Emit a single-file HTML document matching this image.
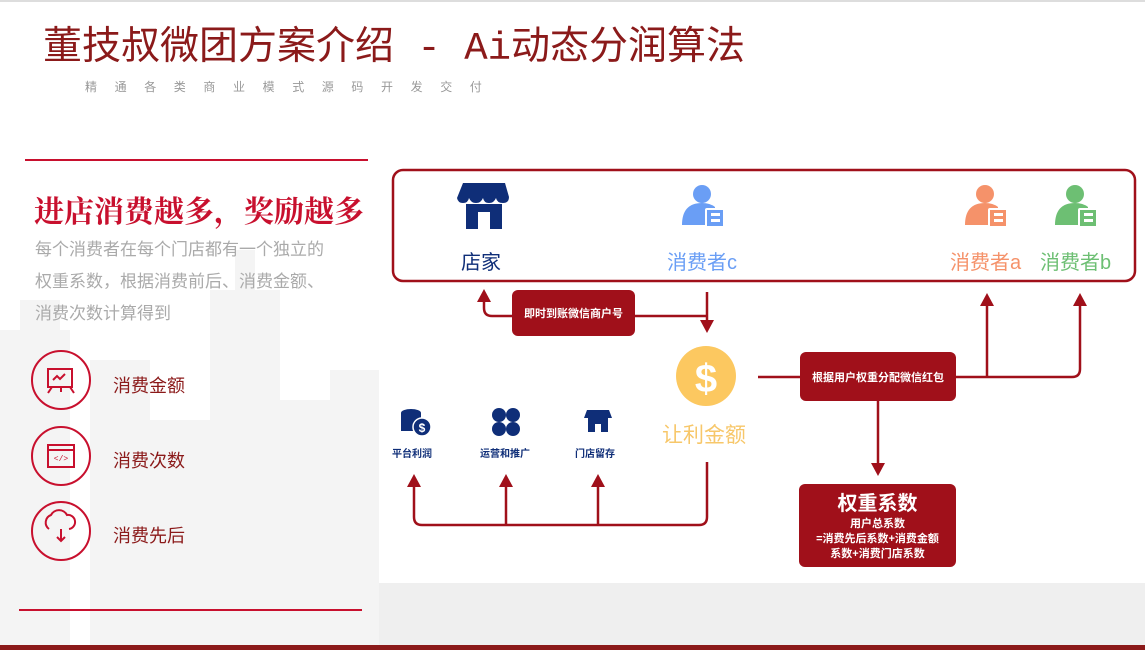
<!DOCTYPE html>
<html><head><meta charset="utf-8"><style>
body{margin:0;width:1145px;height:650px;overflow:hidden;background:#fff;font-family:"Liberation Sans","Noto Sans CJK SC",sans-serif;position:relative}
.a{position:absolute;white-space:nowrap}
</style></head><body>
<svg class="a" style="left:0;top:0" width="1145" height="650">
<g fill="#f4f4f4">
<rect x="0" y="330" width="70" height="320"/><rect x="20" y="300" width="40" height="40"/>
<rect x="90" y="360" width="60" height="290"/><rect x="150" y="420" width="70" height="230"/>
<rect x="210" y="290" width="70" height="360"/><rect x="235" y="250" width="20" height="50"/>
<rect x="280" y="400" width="100" height="250"/><rect x="330" y="370" width="50" height="40"/>
<rect x="379" y="583" width="766" height="67" fill="#efefef"/>
</g>
<rect x="0" y="0" width="1145" height="2" fill="#ddd"/>
<line x1="25" y1="160" x2="368" y2="160" stroke="#c8102e" stroke-width="2"/>
<line x1="19" y1="610" x2="362" y2="610" stroke="#c8102e" stroke-width="2"/>
<rect x="0" y="645" width="1145" height="5" fill="#8b1a1a"/>
<rect x="379" y="165" width="762" height="418" fill="#fff"/>
<g fill="none" stroke="#c8102e" stroke-width="2">
<circle cx="61" cy="380" r="29"/><circle cx="61" cy="456" r="29"/><circle cx="61" cy="531" r="29"/>
<rect x="48" y="369" width="24" height="18"/><path d="M53 380l4-4 3 3 5-5M52 387l-4 6M70 387l4 6M61 387v5"/>
<rect x="48" y="445" width="26" height="22"/><line x1="48" y1="450" x2="74" y2="450"/>
<path d="M54 469a8 8 0 0 1 2-14 9 9 0 0 1 16 0 6 6 0 0 1 2 14" transform="translate(-5,60)"/>
<path d="M61 529v12M57 537l4 4 4-4"/>
</g>
<text x="61" y="461" font-size="8" fill="#c8102e" text-anchor="middle" font-family="Liberation Mono">&lt;/&gt;</text>
<rect x="393" y="170" width="742" height="111" rx="10" fill="none" stroke="#a0101a" stroke-width="2.5"/>
<g fill="none" stroke="#a0101a" stroke-width="2.5">
<path d="M484 300v8q0 8 8 8h20"/>
<path d="M635 316h72"/><path d="M707 292v30"/>
<path d="M758 377h42"/><path d="M956 377h116q8 0 8-8v-64"/><path d="M987 377v-72"/>
<path d="M878 401v63"/>
<path d="M707 462v55q0 8-8 8h-277q-8 0-8-8v-32"/><path d="M506 485v40"/><path d="M598 485v40"/>
</g>
<g fill="#a0101a">
<path d="M477 302l7-13 7 13z"/><path d="M700 320l7 13 7-13z"/>
<path d="M980 306l7-13 7 13z"/><path d="M1073 306l7-13 7 13z"/>
<path d="M871 463l7 13 7-13z"/>
<path d="M407 487l7-13 7 13z"/><path d="M499 487l7-13 7 13z"/><path d="M591 487l7-13 7 13z"/>
<rect x="512" y="290" width="123" height="46" rx="6"/>
<rect x="800" y="352" width="156" height="49" rx="6"/>
<rect x="799" y="484" width="157" height="83" rx="6"/>
</g>
<g fill="#0f2e78">
<path d="M463 183h42l4 14q0 6-6 6t-7-5q-2 5-7 5t-6-5q-2 5-7 5t-7-5q-1 5-6 5t-6-5z"/>
<rect x="466" y="204" width="36" height="25"/>
</g>
<rect x="478" y="212" width="12" height="17" fill="#fff"/>
<g fill="#6a9ef5" transform="translate(702,200)"><circle cx="0" cy="-6" r="9"/><path d="M-20 25q0-22 20-22 8 0 13 4v18z"/><rect x="4" y="9" width="18" height="18" rx="1" stroke="#fff" stroke-width="2"/><rect x="9" y="13" width="9" height="3" fill="#fff"/><rect x="9" y="19" width="9" height="3" fill="#fff"/></g>
<g fill="#f5926a" transform="translate(985,200)"><circle cx="0" cy="-6" r="9"/><path d="M-20 25q0-22 20-22 8 0 13 4v18z"/><rect x="4" y="9" width="18" height="18" rx="1" stroke="#fff" stroke-width="2"/><rect x="9" y="13" width="9" height="3" fill="#fff"/><rect x="9" y="19" width="9" height="3" fill="#fff"/></g>
<g fill="#6dbf73" transform="translate(1075,200)"><circle cx="0" cy="-6" r="9"/><path d="M-20 25q0-22 20-22 8 0 13 4v18z"/><rect x="4" y="9" width="18" height="18" rx="1" stroke="#fff" stroke-width="2"/><rect x="9" y="13" width="9" height="3" fill="#fff"/><rect x="9" y="19" width="9" height="3" fill="#fff"/></g>
<circle cx="706" cy="376" r="30" fill="#fcc860"/>
<text x="706" y="392" font-size="40" font-weight="bold" fill="#fff" text-anchor="middle" font-family="Liberation Sans">$</text>
<g fill="#0f2e78">
<ellipse cx="411" cy="413" rx="10" ry="4"/><rect x="401" y="413" width="20" height="18"/>
<circle cx="422" cy="427" r="9" stroke="#fff" stroke-width="1.5"/>
<circle cx="499" cy="415" r="7"/><circle cx="513" cy="415" r="7"/><circle cx="499" cy="429" r="7"/><circle cx="513" cy="429" r="7"/>
<path d="M587 410h22l3 8h-28z"/><rect x="588" y="418" width="20" height="14"/>
</g>
<text x="422" y="432" font-size="12" font-weight="bold" fill="#fff" text-anchor="middle" font-family="Liberation Sans">$</text>
<rect x="595" y="424" width="6" height="8" fill="#fff"/>
</svg>
<div class="a" style="left:43px;top:25px;font-size:39px;line-height:48px;color:#8b1a1a;font-family:'Liberation Mono','Noto Sans CJK SC',monospace">董技叔微团方案介绍 - Ai动态分润算法</div>
<div class="a" style="left:85px;top:78px;font-size:12px;letter-spacing:17.6px;color:#999;font-family:'Noto Sans CJK SC',sans-serif">精通各类商业模式源码开发交付</div>
<div class="a" style="left:34px;top:190px;font-size:30px;line-height:38px;color:#c8102e;font-family:'Noto Serif CJK SC',serif;font-weight:bold">进店消费越多，奖励越多</div>
<div class="a" style="left:35px;top:234px;font-size:17px;line-height:32px;color:#aaa;white-space:normal;width:320px">每个消费者在每个门店都有一个独立的<br>权重系数，根据消费前后、消费金额、<br>消费次数计算得到</div>
<div class="a" style="left:113px;top:372px;font-size:18px;color:#8b1a1a">消费金额</div>
<div class="a" style="left:113px;top:447px;font-size:18px;color:#8b1a1a">消费次数</div>
<div class="a" style="left:113px;top:522px;font-size:18px;color:#8b1a1a">消费先后</div>
<div class="a" style="left:461px;top:246px;font-size:20px;color:#0f2e78">店家</div>
<div class="a" style="left:667px;top:246px;font-size:20px;color:#6a9ef5">消费者c</div>
<div class="a" style="left:950px;top:246px;font-size:20px;color:#f5926a">消费者a</div>
<div class="a" style="left:1040px;top:246px;font-size:20px;color:#6dbf73">消费者b</div>
<div class="a" style="left:512px;top:305px;width:123px;text-align:center;font-size:11px;font-weight:bold;color:#fff">即时到账微信商户号</div>
<div class="a" style="left:800px;top:369px;width:156px;text-align:center;font-size:11px;font-weight:bold;color:#fff">根据用户权重分配微信红包</div>
<div class="a" style="left:799px;top:491px;width:157px;text-align:center;color:#fff;font-weight:bold;font-size:11px;line-height:15px"><div style="font-size:20px;line-height:26px">权重系数</div>用户总系数<br>=消费先后系数+消费金额<br>系数+消费门店系数</div>
<div class="a" style="left:662px;top:419px;font-size:21px;color:#f7c76a">让利金额</div>
<div class="a" style="left:392px;top:445px;font-size:10px;font-weight:bold;color:#0f2e78">平台利润</div>
<div class="a" style="left:480px;top:445px;font-size:10px;font-weight:bold;color:#0f2e78">运营和推广</div>
<div class="a" style="left:575px;top:445px;font-size:10px;font-weight:bold;color:#0f2e78">门店留存</div>
</body></html>
